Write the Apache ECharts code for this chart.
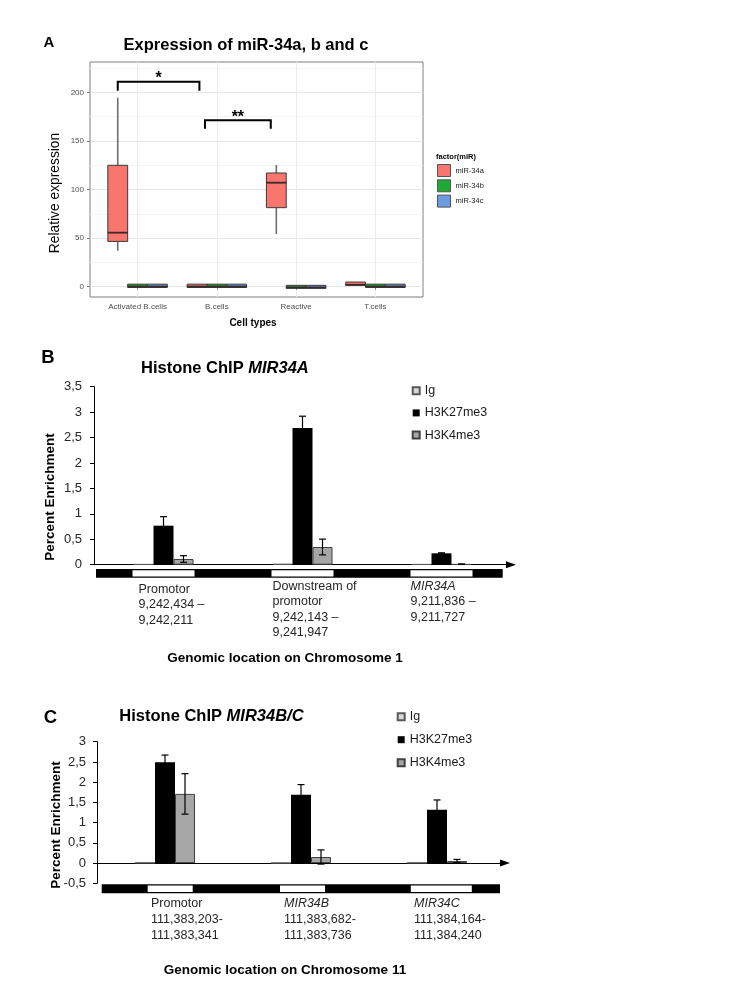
<!DOCTYPE html>
<html><head><meta charset="utf-8">
<script src="https://cdn.jsdelivr.net/npm/echarts@6/dist/echarts.min.js"></script>
<style>html,body{margin:0;padding:0;background:#fff}#c{width:750px;height:1000px}</style>
</head><body><div id="c"></div>
<script>
const FONT = '"Liberation Sans", Arial, Helvetica, sans-serif';

// ---------------- Panel A data ----------------
const cellTypes = ['Activated B.cells', 'B.cells', 'Reactive', 'T.cells'];
const mirNames = ['miR-34a', 'miR-34b', 'miR-34c'];
// rows: [lower whisker, Q1, median, Q3, upper whisker]
const mir34a = [[37, 46.6, 55.6, 124.9, 194.5], [-0.8, -0.8, 0.2, 2.6, 2.6], [54.2, 81.3, 107, 117, 125.2], [1.4, 1.4, 2.0, 4.8, 4.8]];
const mir34b = [[-0.8, -0.8, 0.2, 2.6, 2.6], [-0.8, -0.8, 0.2, 2.6, 2.6], [-1.7, -1.7, -0.7, 1.4, 1.4], [-0.8, -0.8, 0.2, 2.6, 2.6]];
const mir34c = [[-0.8, -0.8, 0.2, 2.6, 2.6], [-0.8, -0.8, 0.2, 2.6, 2.6], [-1.7, -1.7, -0.7, 1.4, 1.4], [-0.8, -0.8, 0.2, 2.6, 2.6]];
const yTicksA = [0, 50, 100, 150, 200];
const yMinorA = [25, 75, 125, 175, 225];
const xTicksA = [1, 2, 3, 4];
// significance brackets: [x start, x end, bracket top, leg end]
const sigBrackets = [[0.75, 1.78, 211, 201.7], [1.85, 2.68, 171.2, 162.6]];
const sigLabels = ['*', '**'];

// ---------------- Panel B data ----------------
const locB = ['Promotor', 'Downstream of promotor', 'MIR34A'];
const locLinesB = [['Promotor', '9,242,434 –', '9,242,211'], ['Downstream of', 'promotor', '9,242,143 –', '9,241,947'], ['MIR34A', '9,211,836 –', '9,211,727']];
const italicFirstB = [false, false, true];
const igB = [0.01, 0.015, 0.01];
const k27B = [0.767, 2.69, 0.224];
const k4B = [0.112, 0.348, 0.01];
const igErrB = [0, 0, 0];
const k27ErrB = [0.177, 0.23, 0.01];
const k4ErrB = [0.065, 0.155, 0.005];

// ---------------- Panel C data ----------------
const locC = ['Promotor', 'MIR34B', 'MIR34C'];
const locLinesC = [['Promotor', '111,383,203-', '111,383,341'], ['MIR34B', '111,383,682-', '111,383,736'], ['MIR34C', '111,384,164-', '111,384,240']];
const italicFirstC = [false, true, true];
const igC = [0.01, 0.005, 0.01];
const k27C = [2.49, 1.69, 1.32];
const k4C = [1.71, 0.15, 0.05];
const igErrC = [0, 0, 0];
const k27ErrC = [0.18, 0.25, 0.24];
const k4ErrC = [0.5, 0.175, 0.04];

const histNames = ['Ig', 'H3K27me3', 'H3K4me3'];

// ---------------- styles ----------------
const BOX_W = 0.25;
const BOX_OFF = [-0.25, 0, 0.25];
const BOX_COLORS = ['#F8766D', '#1FAA35', '#6C9BE0'];
const BAR_PX = 20;
const HIST_COLORS = ['#d9d9d9', '#000000', '#a6a6a6'];
const HIST_BORDERS = ['#595959', '#000000', '#404040'];
const stripB = {left: 2, right: 8.3, top: 4.3, height: 8.7, boxOff: [0, 0, 0], boxW: [62, 62, 62], textOff: [-25, -30, -31], textDy: [3, 0, 0], textTop: 22, lineH: 15.2};
const stripC = {left: 4.7, right: 5, top: 1, height: 9, boxOff: [5.2, 1.5, 4.3], boxW: [45, 45, 61], textOff: [-14, -17, -23], textDy: [0, 0, 0], textTop: 20.7, lineH: 15.8};

function boxSeries(name, rows, offset, color) {
  return {
    type: 'custom', name: name, xAxisIndex: 0, yAxisIndex: 0, z: 3,
    itemStyle: {color: color, borderColor: '#444'},
    data: rows.map((r, i) => [i + 1].concat(r)),
    encode: {x: 0, y: [1, 2, 3, 4, 5]},
    renderItem: function (params, api) {
      const x = api.value(0) + offset;
      const pLow = api.coord([x, api.value(1)]);
      const pQ1 = api.coord([x, api.value(2)]);
      const pMed = api.coord([x, api.value(3)]);
      const pQ3 = api.coord([x, api.value(4)]);
      const pHigh = api.coord([x, api.value(5)]);
      const left = api.coord([x - BOX_W / 2, 0])[0];
      const right = api.coord([x + BOX_W / 2, 0])[0];
      const wStyle = {stroke: '#6e6e6e', lineWidth: 1.6};
      return {type: 'group', children: [
        {type: 'line', shape: {x1: pLow[0], y1: pLow[1], x2: pQ1[0], y2: pQ1[1]}, style: wStyle},
        {type: 'line', shape: {x1: pQ3[0], y1: pQ3[1], x2: pHigh[0], y2: pHigh[1]}, style: wStyle},
        {type: 'rect', shape: {x: left, y: pQ3[1], width: right - left, height: Math.max(pQ1[1] - pQ3[1], 1)}, style: {fill: color, stroke: '#3a3a3a', lineWidth: 1}},
        {type: 'line', shape: {x1: left, y1: pMed[1], x2: right, y2: pMed[1]}, style: {stroke: '#3a2a2a', lineWidth: 1.8}}
      ]};
    }
  };
}

function sigSeries() {
  return {
    type: 'custom', name: 'sig', xAxisIndex: 0, yAxisIndex: 0, z: 4, silent: true,
    data: sigBrackets,
    encode: {x: [0, 1], y: [2, 3]},
    renderItem: function (params, api) {
      const a = api.coord([api.value(0), api.value(3)]);
      const b = api.coord([api.value(0), api.value(2)]);
      const c = api.coord([api.value(1), api.value(2)]);
      const d = api.coord([api.value(1), api.value(3)]);
      return {type: 'group', children: [
        {type: 'polyline', shape: {points: [a, b, c, d]}, style: {stroke: '#000', lineWidth: 2, fill: null}},
        {type: 'text', x: (b[0] + c[0]) / 2, y: b[1] - 2.7, style: {text: sigLabels[params.dataIndex], font: 'bold 16px ' + FONT, fill: '#000', align: 'center', verticalAlign: 'middle'}}
      ]};
    }
  };
}

function barSeries(name, vals, xi, yi, k) {
  return {
    type: 'bar', name: name, xAxisIndex: xi, yAxisIndex: yi, data: vals,
    barWidth: BAR_PX, barGap: '0%', z: 2,
    itemStyle: {color: HIST_COLORS[k], borderColor: HIST_BORDERS[k], borderWidth: k === 1 ? 0 : 1}
  };
}

function errSeries(name, xi, yi, valsList, errList) {
  const data = [];
  valsList.forEach((vals, s) => vals.forEach((v, i) => data.push([i, s, v, errList[s][i]])));
  return {
    type: 'custom', name: name, xAxisIndex: xi, yAxisIndex: yi, z: 5, silent: true,
    data: data, encode: {x: 0, y: 2},
    renderItem: function (params, api) {
      const e = api.value(3);
      if (!(e > 0)) return null;
      const v = api.value(2);
      const cx = api.coord([api.value(0), v])[0] + (api.value(1) - 1) * BAR_PX;
      const hi = api.coord([api.value(0), v + e])[1];
      const lo = api.coord([api.value(0), v - e])[1];
      const st = {stroke: '#000', lineWidth: 1.2};
      return {type: 'group', children: [
        {type: 'line', shape: {x1: cx, y1: hi, x2: cx, y2: lo}, style: st},
        {type: 'line', shape: {x1: cx - 3.5, y1: hi, x2: cx + 3.5, y2: hi}, style: st},
        {type: 'line', shape: {x1: cx - 3.5, y1: lo, x2: cx + 3.5, y2: lo}, style: st}
      ]};
    }
  };
}

function stripSeries(name, xi, yi, lines, italicFirst, cfg) {
  return {
    type: 'custom', name: name, xAxisIndex: xi, yAxisIndex: yi, z: 1, silent: true,
    data: lines.map((l, i) => [i, 0]), encode: {x: 0, y: 1},
    renderItem: function (params, api) {
      const cs = params.coordSys;
      const i = params.dataIndex;
      const c = api.coord([api.value(0), 0])[0];
      const bottom = cs.y + cs.height;
      const ch = [];
      if (i === 0) {
        ch.push({type: 'rect', shape: {x: cs.x + cfg.left, y: bottom + cfg.top, width: cs.width - cfg.left - cfg.right, height: cfg.height}, style: {fill: '#000'}});
      }
      ch.push({type: 'rect', shape: {x: c + cfg.boxOff[i] - cfg.boxW[i] / 2, y: bottom + cfg.top + 1.2, width: cfg.boxW[i], height: cfg.height - 2.4}, style: {fill: '#fff'}});
      lines[i].forEach((t, j) => {
        const ital = (j === 0 && italicFirst[i]);
        ch.push({type: 'text', x: c + cfg.textOff[i], y: bottom + cfg.textTop + cfg.textDy[i] + j * cfg.lineH,
          style: {text: t, font: (ital ? 'italic ' : '') + '12.5px ' + FONT, fill: '#262626', align: 'left', verticalAlign: 'middle'}});
      });
      return {type: 'group', children: ch};
    }
  };
}

const commaFmt = v => String(v).replace('.', ',');

const option = {
  animation: false,
  backgroundColor: '#fff',
  textStyle: {fontFamily: FONT},
  grid: [
    {left: 90, top: 62, width: 333, height: 235, show: true, borderColor: '#7f7f7f', borderWidth: 1, backgroundColor: '#fff', containLabel: false},
    {left: 94, top: 386.7, width: 417, height: 178, containLabel: false},
    {left: 97, top: 741.7, width: 408, height: 141.6, containLabel: false}
  ],
  xAxis: [
    {gridIndex: 0, type: 'value', min: 0.4, max: 4.6,
      axisLine: {show: false},
      axisTick: {show: true, length: 3, customValues: xTicksA, lineStyle: {color: '#7f7f7f'}},
      axisLabel: {customValues: xTicksA, formatter: v => cellTypes[Math.round(v) - 1], fontSize: 8, color: '#4d4d4d', margin: 6, fontFamily: FONT},
      splitLine: {show: true, lineStyle: {color: '#ebebeb', width: 1}}},
    {gridIndex: 1, type: 'category', data: locB,
      axisLine: {show: true, onZero: true, symbol: ['none', 'triangle'], symbolSize: [7, 10], lineStyle: {color: '#000', width: 1}},
      axisTick: {show: false}, axisLabel: {show: false}, splitLine: {show: false}},
    {gridIndex: 2, type: 'category', data: locC,
      axisLine: {show: true, onZero: true, symbol: ['none', 'triangle'], symbolSize: [7, 10], lineStyle: {color: '#000', width: 1}},
      axisTick: {show: false}, axisLabel: {show: false}, splitLine: {show: false}}
  ],
  yAxis: [
    {gridIndex: 0, type: 'value', min: -10.6, max: 231.2,
      axisLine: {show: false},
      axisTick: {show: true, length: 3, customValues: yTicksA, lineStyle: {color: '#7f7f7f'}},
      axisLabel: {customValues: yTicksA, fontSize: 8, color: '#4d4d4d', margin: 6, fontFamily: FONT},
      splitLine: {show: true, lineStyle: {color: '#e6e6e6', width: 1}}},
    {gridIndex: 0, type: 'value', min: -10.6, max: 231.2,
      axisLine: {show: false},
      axisTick: {show: false, customValues: yMinorA},
      axisLabel: {show: false},
      splitLine: {show: true, lineStyle: {color: '#f4f4f4', width: 1}}},
    {gridIndex: 1, type: 'value', min: 0, max: 3.5, interval: 0.5,
      axisLine: {show: true, lineStyle: {color: '#000', width: 1}},
      axisTick: {show: true, length: 4, lineStyle: {color: '#000'}},
      axisLabel: {formatter: commaFmt, fontSize: 13, color: '#262626', margin: 12, fontFamily: FONT},
      splitLine: {show: false}},
    {gridIndex: 2, type: 'value', min: -0.5, max: 3, interval: 0.5,
      axisLine: {show: true, lineStyle: {color: '#000', width: 1}},
      axisTick: {show: true, length: 4, lineStyle: {color: '#000'}},
      axisLabel: {formatter: commaFmt, fontSize: 13, color: '#262626', margin: 11, fontFamily: FONT},
      splitLine: {show: false}}
  ],
  legend: [
    {data: mirNames, orient: 'vertical', left: 437, top: 164, padding: 0, itemWidth: 13, itemHeight: 12, itemGap: 2.3,
      icon: 'rect', itemStyle: {borderColor: '#555', borderWidth: 1},
      textStyle: {fontSize: 7.5, color: '#1a1a1a', fontFamily: FONT}, selectedMode: false},
    {data: histNames, orient: 'vertical', left: 411.7, top: 383.7, padding: 0, itemWidth: 7, itemHeight: 7, itemGap: 8.2,
      icon: 'rect', textStyle: {fontSize: 12.5, lineHeight: 14, color: '#1a1a1a', fontFamily: FONT}, selectedMode: false},
    {data: histNames, orient: 'vertical', left: 396.7, top: 709.7, padding: 0, itemWidth: 7, itemHeight: 7, itemGap: 9,
      icon: 'rect', textStyle: {fontSize: 12.5, lineHeight: 14, color: '#1a1a1a', fontFamily: FONT}, selectedMode: false}
  ],
  graphic: [
    {type: 'text', x: 49, y: 43, style: {text: 'A', font: 'bold 15px ' + FONT, fill: '#000', align: 'center', verticalAlign: 'middle'}},
    {type: 'text', x: 246, y: 45, style: {text: 'Expression of miR-34a, b and c', font: 'bold 16.5px ' + FONT, fill: '#000', align: 'center', verticalAlign: 'middle'}},
    {type: 'text', x: 55, y: 193, rotation: Math.PI / 2, style: {text: 'Relative expression', font: '13.8px ' + FONT, fill: '#000', align: 'center', verticalAlign: 'middle'}},
    {type: 'text', x: 253, y: 323, style: {text: 'Cell types', font: 'bold 10px ' + FONT, fill: '#000', align: 'center', verticalAlign: 'middle'}},
    {type: 'text', x: 436, y: 157, style: {text: 'factor(miR)', font: 'bold 7.5px ' + FONT, fill: '#000', align: 'left', verticalAlign: 'middle'}},
    {type: 'text', x: 48, y: 358, style: {text: 'B', font: 'bold 18.5px ' + FONT, fill: '#000', align: 'center', verticalAlign: 'middle'}},
    {type: 'text', x: 141, y: 368, style: {text: '{n|Histone ChIP }{i|MIR34A}', font: 'bold 16.5px ' + FONT, fill: '#000', align: 'left', verticalAlign: 'middle',
      rich: {n: {font: 'bold 16.5px ' + FONT, fill: '#000'}, i: {font: 'italic bold 16.5px ' + FONT, fill: '#000'}}}},
    {type: 'text', x: 50, y: 497, rotation: Math.PI / 2, style: {text: 'Percent Enrichment', font: 'bold 13.5px ' + FONT, fill: '#000', align: 'center', verticalAlign: 'middle'}},
    {type: 'text', x: 285, y: 658, style: {text: 'Genomic location on Chromosome 1', font: 'bold 13.5px ' + FONT, fill: '#000', align: 'center', verticalAlign: 'middle'}},
    {type: 'text', x: 50.5, y: 718.4, style: {text: 'C', font: 'bold 18.5px ' + FONT, fill: '#000', align: 'center', verticalAlign: 'middle'}},
    {type: 'text', x: 119.3, y: 716.7, style: {text: '{n|Histone ChIP }{i|MIR34B/C}', font: 'bold 16.5px ' + FONT, fill: '#000', align: 'left', verticalAlign: 'middle',
      rich: {n: {font: 'bold 16.5px ' + FONT, fill: '#000'}, i: {font: 'italic bold 16.5px ' + FONT, fill: '#000'}}}},
    {type: 'text', x: 56.7, y: 825, rotation: Math.PI / 2, style: {text: 'Percent Enrichment', font: 'bold 13.5px ' + FONT, fill: '#000', align: 'center', verticalAlign: 'middle'}},
    {type: 'text', x: 285, y: 970.7, style: {text: 'Genomic location on Chromosome 11', font: 'bold 13.5px ' + FONT, fill: '#000', align: 'center', verticalAlign: 'middle'}}
  ],
  series: [
    boxSeries(mirNames[0], mir34a, BOX_OFF[0], BOX_COLORS[0]),
    boxSeries(mirNames[1], mir34b, BOX_OFF[1], BOX_COLORS[1]),
    boxSeries(mirNames[2], mir34c, BOX_OFF[2], BOX_COLORS[2]),
    sigSeries(),
    barSeries(histNames[0], igB, 1, 2, 0),
    barSeries(histNames[1], k27B, 1, 2, 1),
    barSeries(histNames[2], k4B, 1, 2, 2),
    errSeries('errB', 1, 2, [igB, k27B, k4B], [igErrB, k27ErrB, k4ErrB]),
    stripSeries('stripB', 1, 2, locLinesB, italicFirstB, stripB),
    barSeries(histNames[0], igC, 2, 3, 0),
    barSeries(histNames[1], k27C, 2, 3, 1),
    barSeries(histNames[2], k4C, 2, 3, 2),
    errSeries('errC', 2, 3, [igC, k27C, k4C], [igErrC, k27ErrC, k4ErrC]),
    stripSeries('stripC', 2, 3, locLinesC, italicFirstC, stripC)
  ]
};

const chart = echarts.init(document.getElementById('c'), null, {renderer: 'canvas', width: 750, height: 1000});
chart.setOption(option);
</script>
</body></html>
